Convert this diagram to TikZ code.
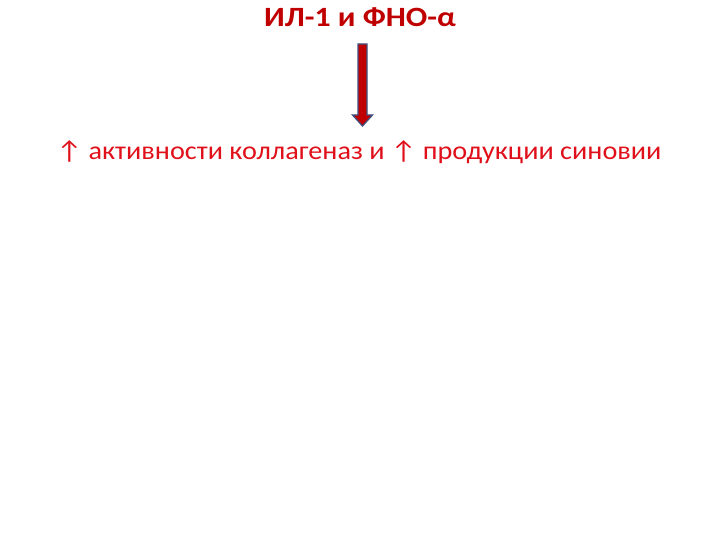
\documentclass[tikz,border=0pt]{standalone}
\usepackage{fontspec}
\setmainfont{Carlito}
\usetikzlibrary{calc}
\definecolor{titlered}{HTML}{C00000}
\definecolor{textred}{HTML}{E0101A}
\definecolor{arrowedge}{HTML}{41517F}
\tikzset{
  titlestyle/.style={font=\bfseries\fontsize{28}{32}\selectfont, text=titlered, inner sep=0pt, xscale=1.14},
  bodystyle/.style={font=\fontsize{26}{30}\selectfont, text=textred, inner sep=0pt, xscale=1.09},
  blockarrow/.style={draw=arrowedge, fill=titlered, line width=1.3bp, line join=miter}
}
\begin{document}
\begin{tikzpicture}[x=1bp,y=-1bp]
\useasboundingbox (0,0) rectangle (720,540);
\node[titlestyle, anchor=base] (title) at (360,27) {ИЛ-1 и ФНО-α};
\node[bodystyle, anchor=base] (body) at (359,160) {↑ активности коллагеназ и ↑ продукции синовии};
\coordinate (astart) at (362.5,44);
\coordinate (aend) at (362.5,126);
\draw[blockarrow] ($(astart)+(-4.5,0)$) -- ($(astart)+(4.5,0)$) -- ($(aend)+(4.5,-11)$) -- ($(aend)+(10,-11)$)
  -- (aend) -- ($(aend)+(-10,-11)$) -- ($(aend)+(-4.5,-11)$) -- cycle;
\end{tikzpicture}
\end{document}
